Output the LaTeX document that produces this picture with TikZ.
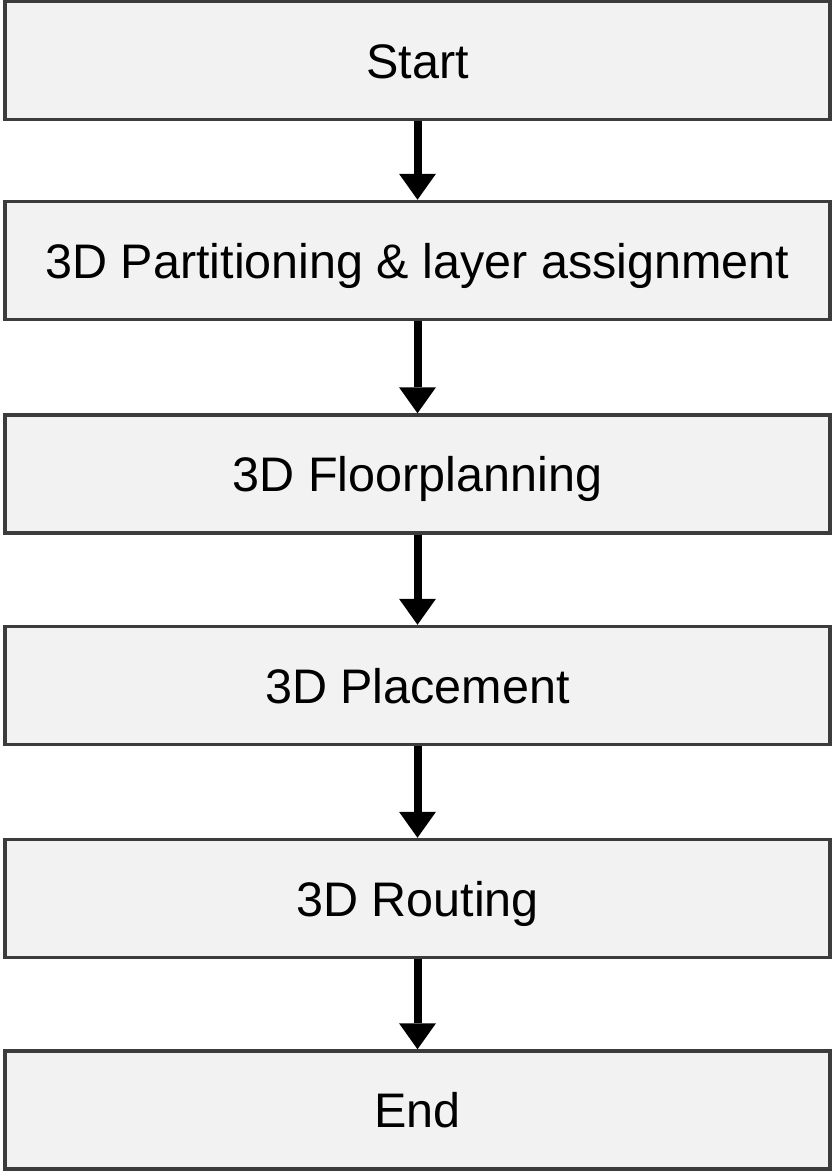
\documentclass[tikz,border=0pt]{standalone}
\usepackage{fontspec}
\setmainfont{Liberation Sans}
\usetikzlibrary{arrows.meta}
\definecolor{boxgray}{HTML}{F2F2F2}
\definecolor{edgegray}{HTML}{3C3C3C}

\begin{document}
\begin{tikzpicture}[x=1pt, y=-1pt,
  stage/.style={draw=edgegray, line width=3.5pt, fill=boxgray,
    minimum width=825pt, minimum height=118pt, inner sep=0pt,
    text height=35pt, text depth=0pt,
    font=\fontsize{48.5}{58}\selectfont},
  flow/.style={line width=8pt,
    -{Triangle[width=37pt, length=26pt, line width=0pt]}}]

% Frame
\useasboundingbox (0,0) rectangle (833,1173);

% Stages
\node[stage] (start) at (417.5,60.5) {Start};
\node[stage] (part) at (417.5,260.5) {3D Partitioning \& layer assignment};
\node[stage] (floor) at (417.5,474) {3D Floorplanning};
\node[stage] (place) at (417.5,685.5) {3D Placement};
\node[stage] (route) at (417.5,898.5) {3D Routing};
\node[stage] (end) at (417.5,1110) {End};

% Flow
\draw[flow] (start) -- (part);
\draw[flow] (part) -- (floor);
\draw[flow] (floor) -- (place);
\draw[flow] (place) -- (route);
\draw[flow] (route) -- (end);

\end{tikzpicture}
\end{document}
